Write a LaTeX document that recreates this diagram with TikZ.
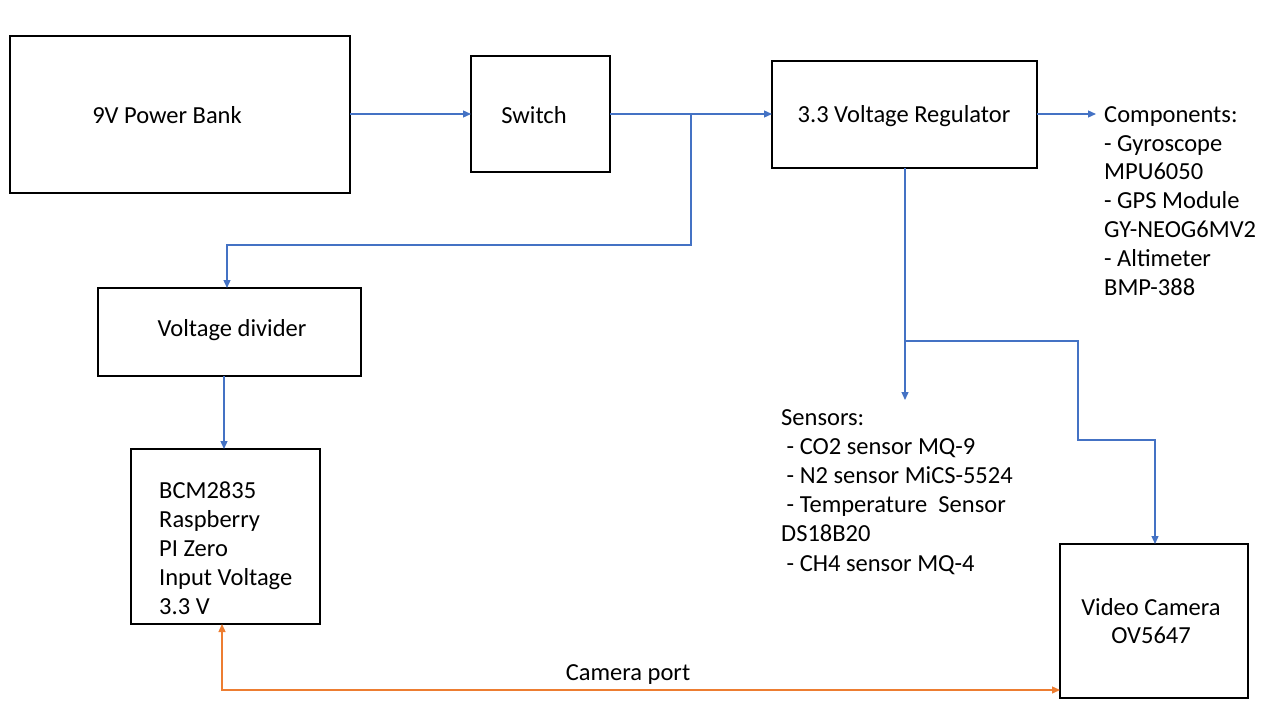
\documentclass[tikz,border=0pt]{standalone}
\usepackage{fontspec}
\setmainfont{Carlito}
\usetikzlibrary{arrows.meta}
\definecolor{lblue}{HTML}{4472C4}
\definecolor{lorange}{HTML}{ED7D31}
\begin{document}
\begin{tikzpicture}[x=1pt,y=-1pt,
  box/.style={draw=black,line width=1.3pt,fill=white},
  txt/.style={font=\fontsize{24.5}{28.9}\selectfont,inner sep=0pt},
  conn/.style={draw=lblue,line width=1.3pt,-{Triangle[length=8pt,width=7pt]}},
  oconn/.style={draw=lorange,line width=1.3pt,{Triangle[length=8pt,width=7pt]}-{Triangle[length=8pt,width=7pt]}}]
\useasboundingbox (0,0) rectangle (1280,720);
% boxes
\draw[box] (10,36) rectangle (350,193);
\node[txt] (pb) at (167,115) {9V Power Bank};
\coordinate (pbR) at (350,114);
\draw[box] (471,56) rectangle (610,172);
\node[txt] (sw) at (534,115) {Switch};
\coordinate (swL) at (471,114);
\coordinate (swR) at (610,114);
\draw[box] (772,61) rectangle (1037,168);
\node[txt] (reg) at (904,116) {3.3 Voltage Regulator};
\coordinate (regL) at (772,114);
\coordinate (regR) at (1037,114);
\coordinate (regB) at (905,168);
\draw[box] (98,288) rectangle (361,376);
\node[txt] (vd) at (232,330) {Voltage divider};
\coordinate (vdT) at (227,288);
\coordinate (vdB) at (224,376);
\draw[box] (131,449) rectangle (320,624);
\node[txt,align=left,anchor=north west] (bcm) at (159,482) {BCM2835\\Raspberry\\PI Zero\\Input Voltage\\3.3 V};
\coordinate (bcmT) at (224,449);
\coordinate (bcmB) at (222,624);
\draw[box] (1060,544) rectangle (1248,698);
\node[txt,align=center,font=\fontsize{24.5}{28}\selectfont] (cam) at (1151,621) {Video Camera\\OV5647};
\coordinate (camT) at (1155,544);
\coordinate (camL) at (1060,690);
% text blocks
\node[txt,align=left,anchor=north west] (comp) at (1104,106) {Components:\\- Gyroscope\\MPU6050\\- GPS Module\\GY-NEOG6MV2\\- Altimeter\\BMP-388};
\coordinate (compL) at (1096,114);
\node[txt,align=left,anchor=north west,font=\fontsize{24.5}{29.2}\selectfont] (sens) at (781,409) {Sensors:\\\ - CO2 sensor MQ-9\\\ - N2 sensor MiCS-5524\\\ - Temperature\ \ Sensor\\DS18B20\\\ - CH4 sensor MQ-4};
\coordinate (sensT) at (905,400);
% connectors
\draw[conn] (pbR) -- (swL);
\draw[conn] (swR) -- (regL);
\coordinate (j1) at (691,114);
\draw[conn] (j1) -- (691,245) -| (vdT);
\draw[conn] (vdB) -- (bcmT);
\draw[conn] (regR) -- (compL);
\draw[conn] (regB) -- (sensT);
\coordinate (j2) at (905,341);
\draw[conn] (j2) -- (1078,341) -- (1078,440) -| (camT);
\draw[oconn] (bcmB) |- (camL);
\node[txt] (cp) at (628,675) {Camera port};
\end{tikzpicture}
\end{document}
